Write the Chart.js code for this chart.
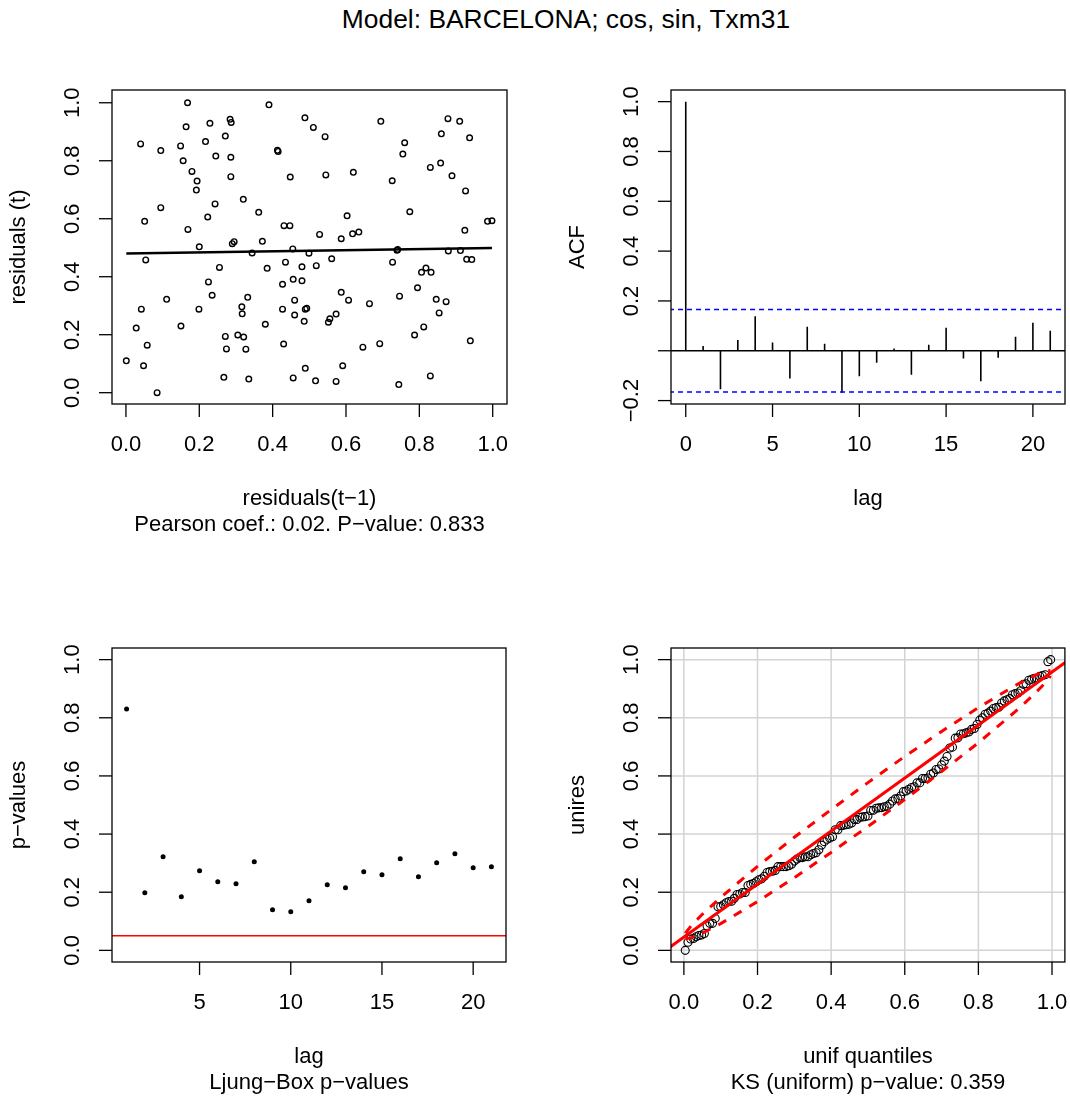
<!DOCTYPE html>
<html>
<head>
<meta charset="utf-8">
<script src="https://cdn.jsdelivr.net/npm/chart.js@4.4.1/dist/chart.umd.min.js"></script>
<style>
  body { margin: 0; background: #fff; }
  #page { position: relative; width: 1070px; height: 1097px; background: #fff; overflow: hidden; }
  #page canvas { position: absolute; }
  #title { position: absolute; top: 4px; left: 566px; transform: translateX(-50%); white-space: nowrap;
           font: 26.4px "Liberation Sans", Arial, sans-serif; color: #000; }
</style>
</head>
<body>
<div id="page">
  <div id="title">Model: BARCELONA; cos, sin, Txm31</div>
  <canvas id="lagPlot"></canvas>
  <canvas id="acfPlot"></canvas>
  <canvas id="lbPlot"></canvas>
  <canvas id="qqPlot"></canvas>
</div>
<script>
// residuals(t-1) / residuals(t)
var resPrev = [0.168, 0.390, 0.488, 0.284, 0.287, 0.229, 0.164, 0.271, 0.040, 0.217, 0.149, 0.095,
    0.413, 0.415, 0.245, 0.286, 0.156, 0.180, 0.286, 0.448, 0.194, 0.192, 0.320, 0.243, 0.095, 0.362,
    0.223, 0.051, 0.431, 0.447, 0.169, 0.290, 0.295, 0.372, 0.200, 0.455,
    0.344, 0.499, 0.054, 0.255, 0.385, 0.435, 0.480, 0.225, 0.427, 0.456, 0.480, 0.235, 0.111, 0.332,
    0.042, 0.199, 0.316, 0.317, 0.427, 0.460, 0.460, 0.489, 0.493, 0.486, 0.028, 0.150, 0.380, 0.058,
    0.271, 0.305, 0.321, 0.274, 0.327, 0.430, 0.001, 0.048, 0.489, 0.267, 0.335, 0.456, 0.085,
    0.511, 0.543, 0.695, 0.878, 0.910, 0.860, 0.937, 0.760, 0.755, 0.545, 0.620, 0.726, 0.830, 0.858,
    0.889, 0.926, 0.774, 0.603, 0.528, 0.587, 0.618, 0.635, 0.924, 0.986, 0.998,
    0.739, 0.741, 0.879, 0.912, 0.929, 0.943, 0.519, 0.561, 0.727, 0.806, 0.818, 0.832, 0.795, 0.587,
    0.607, 0.664, 0.746, 0.846, 0.873, 0.854, 0.552, 0.556, 0.573, 0.812, 0.787, 0.939, 0.646, 0.692,
    0.591, 0.517, 0.573, 0.830, 0.744];
var resCurr = [1.000, 0.993, 0.948, 0.943, 0.932, 0.929, 0.917, 0.885, 0.858, 0.866, 0.851, 0.835,
    0.836, 0.832, 0.816, 0.812, 0.800, 0.763, 0.745, 0.744, 0.730, 0.699, 0.667, 0.651, 0.638, 0.622,
    0.606, 0.591, 0.576, 0.576, 0.563, 0.514, 0.521, 0.522, 0.503, 0.496,
    0.482, 0.481, 0.458, 0.432, 0.429, 0.450, 0.434, 0.382, 0.374, 0.391, 0.386, 0.336, 0.322, 0.329,
    0.288, 0.288, 0.296, 0.272, 0.288, 0.319, 0.268, 0.288, 0.291, 0.246, 0.223, 0.230, 0.236, 0.164,
    0.194, 0.199, 0.192, 0.151, 0.150, 0.168, 0.110, 0.093, 0.084, 0.053, 0.047, 0.051, 0.000,
    0.915, 0.883, 0.936, 0.945, 0.936, 0.893, 0.879, 0.862, 0.823, 0.751, 0.760, 0.731, 0.777, 0.792,
    0.748, 0.696, 0.624, 0.610, 0.546, 0.531, 0.548, 0.554, 0.560, 0.591, 0.593,
    0.491, 0.494, 0.489, 0.490, 0.460, 0.459, 0.438, 0.462, 0.450, 0.415, 0.430, 0.415, 0.362, 0.346,
    0.319, 0.307, 0.333, 0.322, 0.314, 0.275, 0.243, 0.255, 0.271, 0.227, 0.199, 0.179, 0.157, 0.169,
    0.093, 0.041, 0.039, 0.058, 0.028];
var fitX = [0.001, 0.998];
var fitY = [0.480, 0.499];

// autocorrelation of the residuals
var acfLags = [0, 1, 2, 3, 4, 5, 6, 7, 8, 9, 10, 11, 12, 13, 14, 15, 16, 17, 18, 19, 20, 21];
var acfValues = [1.0, 0.019, -0.154, 0.043, 0.139, 0.033, -0.111, 0.096, 0.028, -0.169, -0.102,
    -0.048, 0.009, -0.096, 0.024, 0.092, -0.031, -0.122, -0.028, 0.056, 0.112, 0.080];
var acfBound = 0.166;

// Ljung-Box p-values
var lbLags = [1, 2, 3, 4, 5, 6, 7, 8, 9, 10, 11, 12, 13, 14, 15, 16, 17, 18, 19, 20, 21];
var lbPValues = [0.830, 0.198, 0.322, 0.184, 0.274, 0.236, 0.229, 0.305, 0.140, 0.133, 0.171,
    0.226, 0.215, 0.270, 0.260, 0.315, 0.253, 0.301, 0.332, 0.284, 0.288];
var lbLevel = 0.05;

// QQ reference line and confidence envelope
var qqLineX = [-0.06, 1.06];
var qqLineY = [-0.009, 1.012];
var envX = [0.004, 0.02, 0.05, 0.1, 0.2, 0.3, 0.4, 0.5, 0.6, 0.7, 0.8, 0.9, 0.95, 0.98, 0.996];
var envUpper = [0.059, 0.085, 0.124, 0.182, 0.289, 0.389, 0.484, 0.577, 0.667, 0.753, 0.835, 0.911, 0.944, 0.960, 0.963];
var envLower = [0.040, 0.043, 0.059, 0.092, 0.168, 0.250, 0.337, 0.426, 0.519, 0.615, 0.714, 0.821, 0.879, 0.918, 0.944];

// ticks
var unitTicks = [0, 0.2, 0.4, 0.6, 0.8, 1];
var unitLabels = ["0.0", "0.2", "0.4", "0.6", "0.8", "1.0"];
var acfYTicks = [-0.2, 0, 0.2, 0.4, 0.6, 0.8, 1];
var acfYLabels = ["\u22120.2", "", "0.2", "0.4", "0.6", "0.8", "1.0"];
var acfXTicks = [0, 5, 10, 15, 20];
var lbXTicks = [5, 10, 15, 20];

var FONT = '22px "Liberation Sans", Arial, sans-serif';

// draws the R-style box, ticks, labels and grid
var rAxes = {
    id: "rAxes",
    beforeDatasetsDraw: function (chart, args, o) {
        if (!o.grid) return;
        var ctx = chart.ctx, a = chart.chartArea, x = chart.scales.x, y = chart.scales.y;
        ctx.save();
        ctx.strokeStyle = "#d3d3d3";
        ctx.lineWidth = 1.5;
        o.xTicks.forEach(function (v) {
            var px = x.getPixelForValue(v);
            ctx.beginPath(); ctx.moveTo(px, a.top); ctx.lineTo(px, a.bottom); ctx.stroke();
        });
        o.yTicks.forEach(function (v) {
            var py = y.getPixelForValue(v);
            ctx.beginPath(); ctx.moveTo(a.left, py); ctx.lineTo(a.right, py); ctx.stroke();
        });
        ctx.restore();
    },
    afterDraw: function (chart, args, o) {
        if (!o.xTicks) return;
        var ctx = chart.ctx, a = chart.chartArea, x = chart.scales.x, y = chart.scales.y;
        ctx.save();
        ctx.strokeStyle = "#000";
        ctx.lineWidth = 1.3;
        ctx.strokeRect(a.left, a.top, a.right - a.left, a.bottom - a.top);
        ctx.fillStyle = "#000";
        ctx.font = FONT;
        ctx.textAlign = "center";
        ctx.textBaseline = "middle";
        o.xTicks.forEach(function (v, i) {
            var px = x.getPixelForValue(v);
            ctx.beginPath(); ctx.moveTo(px, a.bottom); ctx.lineTo(px, a.bottom + 13); ctx.stroke();
            ctx.fillText(o.xLabels[i], px, a.bottom + 41);
        });
        o.yTicks.forEach(function (v, i) {
            var py = y.getPixelForValue(v);
            ctx.beginPath(); ctx.moveTo(a.left, py); ctx.lineTo(a.left - 13, py); ctx.stroke();
            ctx.save();
            ctx.translate(a.left - 39, py);
            ctx.rotate(-Math.PI / 2);
            ctx.fillText(o.yLabels[i], 0, 0);
            ctx.restore();
        });
        var cx = (a.left + a.right) / 2;
        ctx.fillText(o.xTitle, cx, a.bottom + 95);
        if (o.sub) ctx.fillText(o.sub, cx, a.bottom + 121);
        ctx.save();
        ctx.translate(a.left - 93, (a.top + a.bottom) / 2);
        ctx.rotate(-Math.PI / 2);
        ctx.fillText(o.yTitle, 0, 0);
        ctx.restore();
        ctx.restore();
    }
};
Chart.register(rAxes);

function place(id, left, top, width, height) {
    var c = document.getElementById(id);
    c.width = width;
    c.height = height;
    c.style.left = left + "px";
    c.style.top = top + "px";
    return c;
}

function baseOptions(pad, xMin, xMax, yMin, yMax, axes) {
    return {
        animation: false,
        responsive: false,
        layout: { padding: pad },
        scales: {
            x: { type: "linear", min: xMin, max: xMax, display: false },
            y: { type: "linear", min: yMin, max: yMax, display: false },
        },
        plugins: { legend: { display: false }, tooltip: { enabled: false }, rAxes: axes },
        elements: { line: { tension: 0 } },
    };
}

function toPoints(xs, ys) {
    return xs.map(function (v, i) { return { x: v, y: ys[i] }; });
}

function hline(v, x0, x1) {
    return [{ x: x0, y: v }, { x: x1, y: v }];
}

function drawCharts() {
    // lag scatter
    new Chart(place("lagPlot", 0, 40, 535, 520), {
        type: "scatter",
        data: {
            datasets: [
                {
                    data: toPoints(fitX, fitY),
                    showLine: true, borderColor: "#000", borderWidth: 2.6, pointRadius: 0,
                },
                {
                    data: toPoints(resPrev, resCurr),
                    pointRadius: 2.8, pointBorderWidth: 1.4,
                    pointBorderColor: "#000", pointBackgroundColor: "rgba(0,0,0,0)",
                },
            ],
        },
        options: baseOptions({ left: 112, right: 28, top: 50, bottom: 156 }, -0.038, 1.039, -0.039, 1.044, {
            xTicks: unitTicks, xLabels: unitLabels, yTicks: unitTicks, yLabels: unitLabels,
            xTitle: "residuals(t\u22121)", sub: "Pearson coef.: 0.02. P\u2212value: 0.833", yTitle: "residuals (t)",
        }),
    });

    // ACF spikes
    var spikes = [];
    acfLags.forEach(function (lag, i) {
        spikes.push({ x: lag, y: 0 }, { x: lag, y: acfValues[i] }, { x: lag, y: null });
    });
    new Chart(place("acfPlot", 535, 40, 535, 520), {
        type: "scatter",
        data: {
            datasets: [
                {
                    data: hline(acfBound, -2, 23),
                    showLine: true, borderColor: "#0000ff", borderWidth: 1.5, borderDash: [5, 4], pointRadius: 0,
                },
                {
                    data: hline(-acfBound, -2, 23),
                    showLine: true, borderColor: "#0000ff", borderWidth: 1.5, borderDash: [5, 4], pointRadius: 0,
                },
                {
                    data: hline(0, -2, 23),
                    showLine: true, borderColor: "#000", borderWidth: 1.4, pointRadius: 0,
                },
                {
                    data: spikes,
                    showLine: true, spanGaps: false, borderColor: "#000", borderWidth: 1.6, pointRadius: 0,
                },
            ],
        },
        options: baseOptions({ left: 136, right: 5, top: 50, bottom: 156 }, -0.85, 21.85, -0.2137, 1.0467, {
            xTicks: acfXTicks, xLabels: acfXTicks.map(String), yTicks: acfYTicks, yLabels: acfYLabels,
            xTitle: "lag", sub: "", yTitle: "ACF",
        }),
    });

    // Ljung-Box
    new Chart(place("lbPlot", 0, 560, 535, 537), {
        type: "scatter",
        data: {
            datasets: [
                {
                    data: hline(lbLevel, -1, 23),
                    showLine: true, borderColor: "#ff0000", borderWidth: 1.5, pointRadius: 0,
                },
                {
                    data: toPoints(lbLags, lbPValues),
                    pointRadius: 2.5, pointBorderWidth: 0, pointBackgroundColor: "#000",
                },
            ],
        },
        options: baseOptions({ left: 112, right: 29, top: 88, bottom: 135 }, 0.2, 21.8, -0.04, 1.04, {
            xTicks: lbXTicks, xLabels: lbXTicks.map(String), yTicks: unitTicks, yLabels: unitLabels,
            xTitle: "lag", sub: "Ljung\u2212Box p\u2212values", yTitle: "p\u2212values",
        }),
    });

    // QQ against the uniform: sorted residuals vs ppoints
    var sorted = resCurr.slice().sort(function (p, q) { return p - q; });
    var n = sorted.length;
    var qq = sorted.map(function (v, i) { return { x: (i + 0.5) / n, y: v }; });
    new Chart(place("qqPlot", 535, 560, 535, 537), {
        type: "scatter",
        data: {
            datasets: [
                {
                    data: toPoints(qqLineX, qqLineY),
                    showLine: true, borderColor: "#ff0000", borderWidth: 3, pointRadius: 0,
                },
                {
                    data: toPoints(envX, envUpper),
                    showLine: true, borderColor: "#ff0000", borderWidth: 3, borderDash: [9, 9], pointRadius: 0,
                },
                {
                    data: toPoints(envX, envLower),
                    showLine: true, borderColor: "#ff0000", borderWidth: 3, borderDash: [9, 9], pointRadius: 0,
                },
                {
                    data: qq,
                    pointRadius: 4, pointBorderWidth: 1.1,
                    pointBorderColor: "#000", pointBackgroundColor: "rgba(0,0,0,0)",
                },
            ],
        },
        options: baseOptions({ left: 136, right: 4, top: 88, bottom: 135 }, -0.035, 1.035, -0.04, 1.04, {
            xTicks: unitTicks, xLabels: unitLabels, yTicks: unitTicks, yLabels: unitLabels, grid: true,
            xTitle: "unif quantiles", sub: "KS (uniform) p\u2212value: 0.359", yTitle: "unires",
        }),
    });
}

drawCharts();
</script>
</body>
</html>
